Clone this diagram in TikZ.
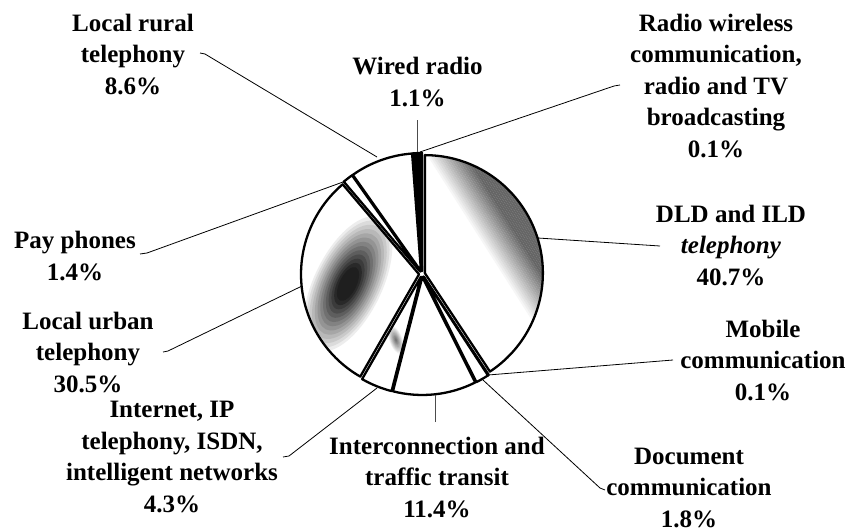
\documentclass[tikz,border=0pt]{standalone}
\usepackage{fontspec}
\setmainfont{Liberation Serif}
\def\cx{422}
\def\cy{274}
\def\R{118}
\newcommand\slicepath[2]{([shift={({(#1+#2)/2}:3)}]\cx,\cy) -- ++(#1:\R) arc[start angle=#1, end angle=#2, radius=\R] -- cycle}
\begin{document}
\begin{tikzpicture}[x=1pt,y=-1pt,
  lbl/.style={font=\fontsize{25}{31.5}\selectfont\bfseries, align=center, inner sep=0pt, anchor=base},
  leader/.style={line width=0.8pt, draw=black},
  sliceline/.style={draw=black, line width=2.3pt, line join=round}]
\useasboundingbox (0,0) rectangle (849,531);
\fill[white] (0,0) rectangle (849,531);

% DLD and ILD telephony 40.7%
\fill[white] \slicepath{-90}{56.52};
\begin{scope}
  \clip \slicepath{-90}{56.52};
  \begin{scope}[shift={(\cx,\cy)}, rotate=32.4]
    \foreach \d in {60,62,...,130}{
      \pgfmathsetmacro\p{max(0,min(60,(\d-66)*60/34))}
      \fill[black!\p] (\d,-200) rectangle (\d+2.1,200);}
  \end{scope}
\end{scope}
\draw[sliceline] \slicepath{-90}{56.52};
% Mobile 0.1%
\draw[sliceline, fill=white] \slicepath{56.52}{56.88};
% Document 1.8%
\draw[sliceline, fill=white] \slicepath{56.88}{63.36};
% Interconnection 11.4%
\draw[sliceline, fill=white] \slicepath{63.36}{104.40};
% Internet 4.3%
\fill[white] \slicepath{104.40}{119.88};
\begin{scope}
  \clip \slicepath{104.40}{119.88};
  \begin{scope}[shift={(396,340)}, rotate=110]
    \foreach \k in {0,...,10}{
      \pgfmathsetmacro\s{1-\k/11}
      \pgfmathsetmacro\p{\k*5.5}
      \fill[black!\p] (0,0) ellipse[x radius=16*\s, y radius=7*\s];}
  \end{scope}
\end{scope}
\draw[sliceline] \slicepath{104.40}{119.88};
% Local urban 30.5%
\fill[white] \slicepath{119.88}{229.68};
\begin{scope}
  \clip \slicepath{119.88}{229.68};
  \begin{scope}[shift={(348,284)}, rotate=64]
    \foreach \k in {0,...,15}{
      \pgfmathsetmacro\s{1-\k/17}
      \pgfmathsetmacro\p{min(88,\k*7)}
      \fill[black!\p] (0,0) ellipse[x radius=78*\s, y radius=36*\s];}
  \end{scope}
\end{scope}
\draw[sliceline] \slicepath{119.88}{229.68};
% Pay phones 1.4%
\draw[sliceline, fill=white] \slicepath{229.68}{234.72};
% Local rural 8.6%
\draw[sliceline, fill=white] \slicepath{234.72}{265.68};
% Wired radio 1.1%
\draw[sliceline, fill=black] \slicepath{265.68}{269.64};
% Radio wireless 0.1%
\draw[sliceline, fill=white] \slicepath{269.64}{270};

% labels (anchor = baseline of the last line)
\node[lbl] (rural) at (133,94) {Local rural\\telephony\\8.6\%};
\node[lbl] (wired) at (417.5,106) {Wired radio\\1.1\%};
\node[lbl] (radiow) at (716,157) {Radio wireless\\communication,\\radio and TV\\broadcasting\\0.1\%};
\node[lbl] (dld) at (731,285) {DLD and ILD\\\textit{telephony}\\40.7\%};
\node[lbl] (mobile) at (763,400) {Mobile\\communication\\0.1\%};
\node[lbl] (doc) at (689,527) {Document\\communication\\1.8\%};
\node[lbl] (inter) at (437,517) {Interconnection and\\traffic transit\\11.4\%};
\node[lbl] (inet) at (172,512) {Internet, IP\\telephony, ISDN,\\intelligent networks\\4.3\%};
\node[lbl] (urban) at (88,392) {Local urban\\telephony\\30.5\%};
\node[lbl] (pay) at (75,280) {Pay phones\\1.4\%};

% leader ends
\coordinate (ruralA) at (200,53);   \coordinate (ruralP) at (377,157);
\coordinate (wiredA) at (417,120);  \coordinate (wiredP) at (417,152);
\coordinate (radiowA) at (620,85);  \coordinate (radiowP) at (420,152);
\coordinate (dldA) at (660,246);    \coordinate (dldP) at (538,238);
\coordinate (mobileA) at (673,360); \coordinate (mobileP) at (488,375);
\coordinate (docA) at (605,490);    \coordinate (docP) at (483,380);
\coordinate (interA) at (435,422);  \coordinate (interP) at (435,395);
\coordinate (inetA) at (283,457);   \coordinate (inetP) at (377,388);
\coordinate (urbanA) at (163,352);  \coordinate (urbanP) at (302,286);
\coordinate (payA) at (140,254);    \coordinate (payP) at (343,182);

\draw[leader] (ruralA) -- ++(5,1) -- (ruralP);
\draw[leader, draw=black!70] (wiredA) -- (wiredP);
\draw[leader] (radiowA) -- ++(-6,1) -- (radiowP);
\draw[leader] (dldA) -- (dldP);
\draw[leader] (mobileA) -- (mobileP);
\draw[leader] (docA) -- ++(-5,-2) -- (docP);
\draw[leader, draw=black!70] (interA) -- (interP);
\draw[leader] (inetA) -- ++(6,-1) -- (inetP);
\draw[leader] (urbanA) -- ++(5,-1) -- (urbanP);
\draw[leader] (payA) -- ++(7,-1) -- (payP);
\end{tikzpicture}
\end{document}
